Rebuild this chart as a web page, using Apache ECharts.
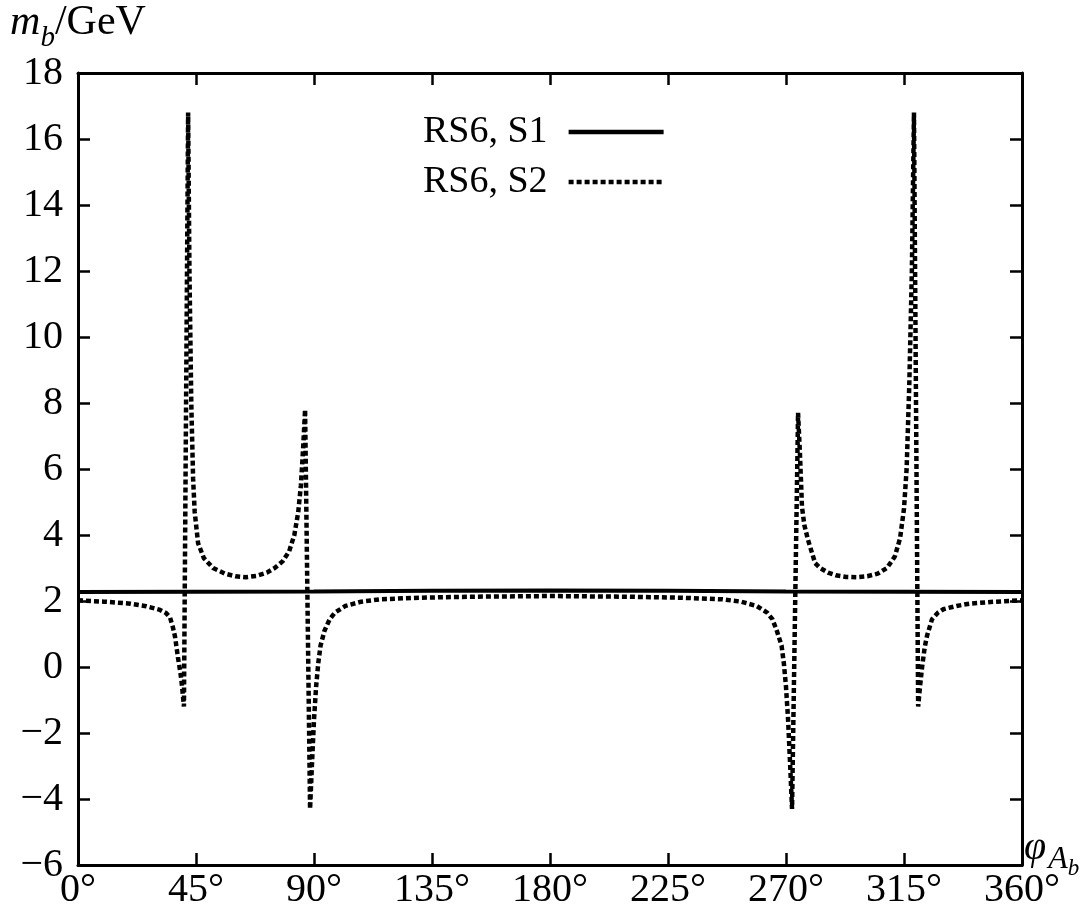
<!DOCTYPE html>
<html>
<head>
<meta charset="utf-8">
<script src="https://cdn.jsdelivr.net/npm/echarts@6/dist/echarts.min.js"></script>
<style>
  html, body { margin: 0; padding: 0; background: #fff; }
</style>
</head>
<body>
<!-- chart container, same size as the window -->
<div id="chart" style="width: 1082px; height: 914px;"></div>
<script>
var FONT = 'Liberation Serif'

var xTicks = [0, 45, 90, 135, 180, 225, 270, 315, 360]
var yTicks = [-6, -4, -2, 0, 2, 4, 6, 8, 10, 12, 14, 16, 18]

// RS6, S1 (solid, nearly flat)
var s1Deg = [0, 45, 90, 135, 180, 225, 270, 315, 360]
var s1Val = [2.27, 2.28, 2.29, 2.31, 2.32, 2.31, 2.29, 2.28, 2.27]

// RS6, S2 (dashed, with poles)
var s2Deg = [
  0, 10, 20, 26, 31.3, 33.5, 35.1, 36.2, 37, 38.1, 39.1, 39.7, 40.4,
  42.0, 42.5, 43.2, 43.9, 44.5, 45.8, 48, 51.5, 56, 60, 64, 68, 72, 75, 78, 80.5, 82.5, 84, 85, 85.9, 86.6,
  88.5, 89.2, 90.0, 90.8, 91.6, 92.5, 94, 96, 98, 102, 108, 115, 130, 150, 180, 210, 230, 245.8,
  252.8, 258.8, 262.8, 264.8, 266.5, 268.3, 269.2, 270.0, 270.8, 271.6, 272.3,
  274.6, 275.3, 276.1, 277, 278.4, 281.1, 283, 286, 289, 293, 297, 301, 305, 308.5, 311.5, 313.5, 315, 316, 317, 318, 318.8,
  320.4, 321.1, 321.9, 322.9, 323.8, 325.7, 328, 330, 335, 340, 350, 360
]
var s2Val = [
  2.02, 1.98, 1.92, 1.84, 1.73, 1.64, 1.5, 1.2, 0.92, 0.3, -0.2, -0.6, -1.2,
  16.8, 12, 8, 5.7, 4.7, 3.75, 3.3, 3.0, 2.83, 2.75, 2.72, 2.76, 2.86, 3.0, 3.2, 3.5, 4.0, 4.7, 5.5, 6.7, 7.8,
  -4.3, -3.0, -1.6, -0.6, 0.1, 0.65, 1.1, 1.45, 1.65, 1.85, 1.98, 2.05, 2.1, 2.13, 2.15, 2.13, 2.1, 2.05,
  1.98, 1.85, 1.65, 1.45, 1.1, 0.65, 0.1, -0.6, -1.6, -3.0, -4.3,
  7.7, 6.5, 4.85, 4.3, 3.85, 3.15, 3.0, 2.86, 2.78, 2.73, 2.72, 2.75, 2.83, 3.0, 3.35, 3.9, 4.8, 6.0, 8.5, 12, 16.8,
  -1.2, -0.6, 0, 0.6, 0.95, 1.45, 1.65, 1.75, 1.85, 1.92, 1.98, 2.02
]

function pairs (xs, ys) {
  return xs.map(function (x, i) { return [x, ys[i]] })
}

var myChart = echarts.init(document.getElementById('chart'))

var axisLine = { onZero: false, lineStyle: { color: '#000', width: 3 } }
var axisTick = { inside: true, length: 12, lineStyle: { color: '#000', width: 2.5 } }

var option = {
  backgroundColor: '#fff',
  animation: false,
  grid: { left: 78, right: 60, top: 73, bottom: 49, outerBoundsMode: 'none' },
  legend: {
    orient: 'vertical',
    left: 418,
    top: 108,
    align: 'right',
    itemWidth: 95,
    itemHeight: 16,
    itemGap: 12,
    data: ['RS6, S1', 'RS6, S2'],
    lineStyle: { width: 4.5 },
    itemStyle: { opacity: 0, color: 'transparent', borderWidth: 0 },
    textStyle: { fontFamily: FONT, fontSize: 38, color: '#000', padding: [0, 16, 0, 0] }
  },
  // x axis title with nested subscript
  graphic: [
    {
      type: 'text',
      left: 1024,
      top: 828,
      style: {
        text: '{p|φ}{a|A}{b|b}',
        rich: {
          p: { fontFamily: FONT, fontStyle: 'italic', fontSize: 40, fill: '#000', verticalAlign: 'bottom', padding: [0, 2, 12, 0] },
          a: { fontFamily: FONT, fontStyle: 'italic', fontSize: 32, fill: '#000', verticalAlign: 'bottom', padding: [0, 0, 4, 0] },
          b: { fontFamily: FONT, fontStyle: 'italic', fontSize: 23, fill: '#000', verticalAlign: 'bottom' }
        }
      }
    }
  ],
  xAxis: [
    {
      type: 'value',
      min: xTicks[0],
      max: xTicks[xTicks.length - 1],
      interval: 45,
      axisLine: axisLine,
      axisTick: axisTick,
      splitLine: { show: false },
      axisLabel: {
        margin: 5,
        color: '#000',
        fontFamily: FONT,
        fontSize: 40,
        formatter: function (v) { return v + '°' }
      }
    },
    {
      type: 'value',
      position: 'top',
      min: xTicks[0],
      max: xTicks[xTicks.length - 1],
      interval: 45,
      axisLine: axisLine,
      axisTick: axisTick,
      axisLabel: { show: false },
      splitLine: { show: false }
    }
  ],
  yAxis: [
    {
      type: 'value',
      min: yTicks[0],
      max: yTicks[yTicks.length - 1],
      interval: 2,
      axisLine: axisLine,
      axisTick: axisTick,
      splitLine: { show: false },
      axisLabel: {
        margin: 15,
        color: '#000',
        fontFamily: FONT,
        fontSize: 40,
        formatter: function (v) { return v < 0 ? '\u2212' + (-v) : '' + v }
      },
      name: '{m|m}{s|b}{t|/GeV}',
      nameLocation: 'end',
      nameGap: 18,
      nameTextStyle: {
        rich: {
          m: { fontFamily: FONT, fontStyle: 'italic', fontSize: 42, color: '#000', verticalAlign: 'bottom', padding: [0, 0, 9, 0] },
          s: { fontFamily: FONT, fontStyle: 'italic', fontSize: 29, color: '#000', verticalAlign: 'bottom' },
          t: { fontFamily: FONT, fontSize: 42, color: '#000', verticalAlign: 'bottom', padding: [0, 0, 9, 0] }
        }
      }
    },
    {
      type: 'value',
      position: 'right',
      min: yTicks[0],
      max: yTicks[yTicks.length - 1],
      interval: 2,
      axisLine: axisLine,
      axisTick: axisTick,
      axisLabel: { show: false },
      splitLine: { show: false }
    }
  ],
  series: [
    {
      name: 'RS6, S2',
      type: 'line',
      symbol: 'none',
      data: pairs(s2Deg, s2Val),
      lineStyle: { color: '#000', width: 4.5, type: [5, 3] },
      itemStyle: { color: '#000' }
    },
    {
      name: 'RS6, S1',
      type: 'line',
      symbol: 'none',
      data: pairs(s1Deg, s1Val),
      lineStyle: { color: '#000', width: 4, type: 'solid' },
      itemStyle: { color: '#000' }
    }
  ]
}
myChart.setOption(option)
</script>
</body>
</html>
